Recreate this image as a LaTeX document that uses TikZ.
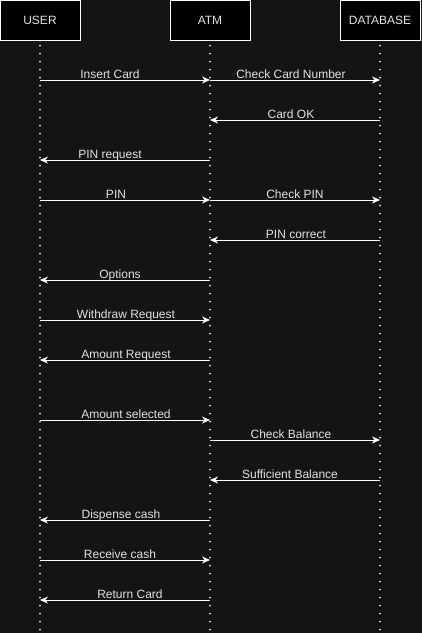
\documentclass[tikz,border=0pt]{standalone}
\usepackage{fontspec}
\setmainfont{Liberation Sans}
\usetikzlibrary{arrows.meta}
\definecolor{bgDark}{HTML}{141414}
\definecolor{textGray}{HTML}{E2E2E2}
\newcommand{\pictWidth}{422}
\newcommand{\pictHeight}{633}
\newcommand{\lblFont}{\fontsize{12}{14}\selectfont}

\tikzset{
  actor/.style={draw=white, line width=1pt, fill=black, minimum width=80pt,
    minimum height=40pt, inner sep=0pt, text=textGray, font=\lblFont},
  lifeline/.style={draw=textGray, line width=2pt, line cap=round,
    dash pattern=on 0pt off 8pt},
  msg/.style={draw=white, line width=1pt,
    -{Stealth[length=8pt,width=7pt,inset=2.5pt]}},
  msglabel/.style={text=textGray, font=\lblFont, anchor=base, inner sep=0pt}
}

\begin{document}
\begin{tikzpicture}[x=1pt, y=-1pt]
      \fill[bgDark] (0,0) rectangle (\pictWidth,\pictHeight);
      \useasboundingbox (0,0) rectangle (\pictWidth,\pictHeight);
      % actors and lifelines
      \node[actor] (user) at (40,20) {USER};
      \node[actor] (atm) at (210,20) {ATM};
      \node[actor] (db) at (380,20) {DATABASE};
      \coordinate (userEnd) at (40,\pictHeight);
      \coordinate (atmEnd) at (210,\pictHeight);
      \coordinate (dbEnd) at (380,\pictHeight);
      \draw[lifeline] ([yshift=-5pt]user.south) -- (userEnd);
      \draw[lifeline] ([yshift=-5pt]atm.south) -- (atmEnd);
      \draw[lifeline] ([yshift=-5pt]db.south) -- (dbEnd);
% messages
\draw[msg] (user |- 0,80) -- (atm |- 0,80);
\node[msglabel] (insert) at (110,78) {Insert Card};
\draw[msg] (atm |- 0,80) -- (db |- 0,80);
\node[msglabel] (checkNum) at (291,78) {Check Card Number};
\draw[msg] (db |- 0,120) -- (atm |- 0,120);
\node[msglabel] (cardOk) at (291,118) {Card OK};
\draw[msg] (atm |- 0,160) -- (user |- 0,160);
\node[msglabel] (pinReq) at (110,158) {PIN request};
\draw[msg] (user |- 0,200) -- (atm |- 0,200);
\node[msglabel] (pin) at (116,198) {PIN};
\draw[msg] (atm |- 0,200) -- (db |- 0,200);
\node[msglabel] (checkPin) at (295,198) {Check PIN};
\draw[msg] (db |- 0,240) -- (atm |- 0,240);
\node[msglabel] (pinOk) at (296,238) {PIN correct};
\draw[msg] (atm |- 0,280) -- (user |- 0,280);
\node[msglabel] (options) at (120,278) {Options};
\draw[msg] (user |- 0,320) -- (atm |- 0,320);
\node[msglabel] (withdraw) at (126,318) {Withdraw Request};
\draw[msg] (atm |- 0,360) -- (user |- 0,360);
\node[msglabel] (amountReq) at (126,358) {Amount Request};
\draw[msg] (user |- 0,420) -- (atm |- 0,420);
\node[msglabel] (amountSel) at (126,418) {Amount selected};
\draw[msg] (atm |- 0,440) -- (db |- 0,440);
\node[msglabel] (checkBal) at (291,438) {Check Balance};
\draw[msg] (db |- 0,480) -- (atm |- 0,480);
\node[msglabel] (sufBal) at (290,478) {Sufficient Balance};
\draw[msg] (atm |- 0,520) -- (user |- 0,520);
\node[msglabel] (dispense) at (121,518) {Dispense cash};
\draw[msg] (user |- 0,560) -- (atm |- 0,560);
\node[msglabel] (receive) at (120,558) {Receive cash};
\draw[msg] (atm |- 0,600) -- (user |- 0,600);
\node[msglabel] (returnCard) at (130,598) {Return Card};
      \end{tikzpicture}
\end{document}
